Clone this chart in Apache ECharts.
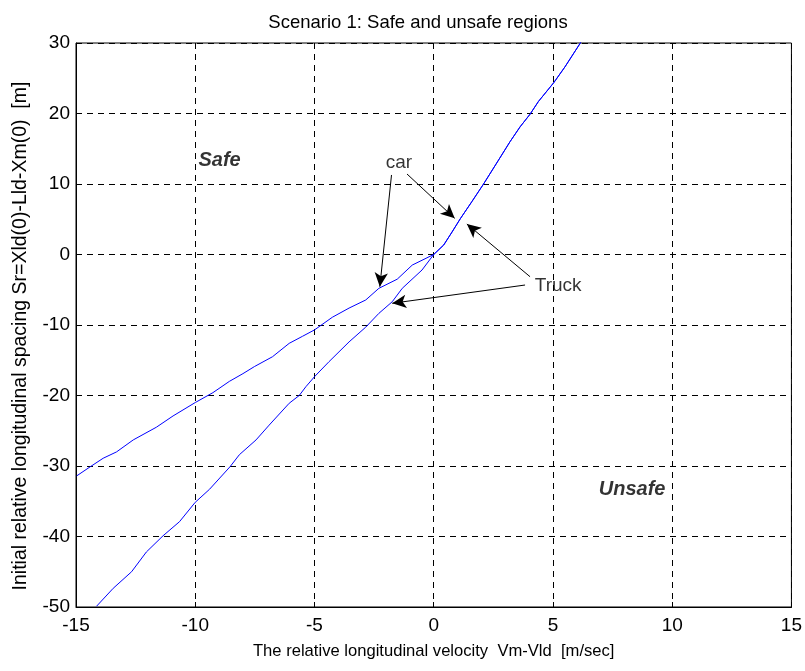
<!DOCTYPE html>
<html>
<head>
<meta charset="utf-8">
<script src="https://cdn.jsdelivr.net/npm/echarts@6/dist/echarts.min.js"></script>
<style>html,body{margin:0;padding:0;background:#fff;}#c{width:805px;height:671px;}</style>
</head>
<body>
<div id="c"></div>
<script>
// Car curve (negative velocities)
var carNegV = [-14.97, -14.4, -13.86, -13.3, -12.6, -11.63, -10.93, -10.0, -9.26, -8.57, -8.0, -7.52, -6.76, -6.06, -5.5, -5.0, -4.25, -3.55, -2.85, -2.3, -1.53, -0.9, 0];
var carNegS = [-31.4, -30.1, -28.9, -28.0, -26.3, -24.5, -22.9, -21.0, -19.6, -18.0, -16.9, -15.9, -14.5, -12.6, -11.6, -10.7, -8.9, -7.6, -6.45, -4.8, -3.5, -1.5, 0];
// Truck curve (negative velocities)
var truckNegV = [-14.14, -13.44, -12.67, -12.05, -11.35, -10.66, -10.0, -9.4, -8.54, -8.15, -7.45, -6.9, -6.06, -5.64, -5.36, -4.99, -4.39, -3.55, -2.85, -2.3, -1.74, -1.32, -0.49, 0];
var truckNegS = [-49.9, -47.35, -45.0, -42.2, -39.9, -37.9, -35.15, -33.3, -30.1, -28.4, -26.3, -24.2, -21.1, -20.0, -18.75, -17.3, -15.2, -12.4, -10.3, -8.35, -6.7, -4.8, -2.2, 0];
// Shared branch (positive velocities, car and truck coincide)
var posV = [0, 0.42, 0.77, 1.12, 1.6, 2.09, 2.72, 3.2, 3.62, 4.04, 4.39, 5.04, 5.5, 6.13, 6.2];
var posS = [0, 1.35, 3.2, 5.1, 7.5, 10.0, 13.4, 16.0, 18.1, 19.9, 21.7, 24.4, 26.6, 29.9, 30.3];

// Axis ticks
var xTicks = [-15, -10, -5, 0, 5, 10, 15];
var yTicks = [-50, -40, -30, -20, -10, 0, 10, 20, 30];

// Text annotations
var noteText = ['car', 'Truck', 'Safe', 'Unsafe'];
var noteV = [-1.46, 5.22, -8.98, 8.32];
var noteS = [13.0, -4.47, 13.4, -33.4];

// Arrows: [startV, startS, endV, endS]
var arrowStartV = [-1.77, -1.12, 4.04, 3.83];
var arrowStartS = [11.28, 11.42, -3.15, -4.33];
var arrowEndV = [-2.26, 0.88, 1.39, -1.74];
var arrowEndS = [-4.57, 5.13, 4.33, -6.92];

function pairs(a, b) { return a.map(function (v, i) { return [v, b[i]]; }); }

var carData = pairs(carNegV, carNegS).concat(pairs(posV, posS).slice(1));
var truckData = pairs(truckNegV, truckNegS).concat(pairs(posV, posS).slice(1));

var FONT = 'Liberation Sans';
var chart = echarts.init(document.getElementById('c'), null, { renderer: 'canvas' });

var notes = noteText.map(function (t, i) {
  var bold = (t === 'Safe' || t === 'Unsafe');
  return {
    value: [noteV[i], noteS[i]],
    label: {
      show: true, formatter: t, position: 'inside',
      fontFamily: FONT, fontSize: bold ? 20 : 19,
      fontWeight: bold ? 'bold' : 'normal', fontStyle: bold ? 'italic' : 'normal',
      color: '#000', textBorderWidth: 0
    }
  };
});

var arrows = arrowStartV.map(function (v, i) {
  return [{ coord: [v, arrowStartS[i]] }, { coord: [arrowEndV[i], arrowEndS[i]] }];
});

chart.setOption({
  animation: false,
  backgroundColor: '#fff',
  title: {
    text: 'Scenario 1: Safe and unsafe regions',
    left: 413, top: 8, textAlign: 'center',
    textStyle: { fontFamily: FONT, fontSize: 18.5, fontWeight: 'normal', color: '#000' }
  },
  grid: { left: 76, right: 11, top: 43, bottom: 64, show: true, borderColor: '#000', borderWidth: 1, backgroundColor: '#fff' },
  xAxis: {
    type: 'value', min: -15, max: 15, interval: 5,
    name: 'The relative longitudinal velocity  Vm-Vld  [m/sec]',
    nameLocation: 'middle', nameGap: 36,
    nameTextStyle: { fontFamily: FONT, fontSize: 16.6, color: '#000' },
    axisLine: { show: true, onZero: false, lineStyle: { color: '#000', width: 1 } },
    axisTick: { show: true, inside: true, length: 5, lineStyle: { color: '#000' } },
    axisLabel: { fontFamily: FONT, fontSize: 19, color: '#000', margin: 9,
      formatter: function (v) { return xTicks.indexOf(v) >= 0 ? String(v) : ''; } },
    splitLine: { show: true, lineStyle: { color: '#000', type: [6, 5], width: 1 } }
  },
  yAxis: {
    type: 'value', min: -50, max: 30, interval: 10,
    name: 'Initial relative longitudinal spacing Sr=Xld(0)-Lld-Xm(0)  [m]',
    nameLocation: 'middle', nameGap: 45,
    nameTextStyle: { fontFamily: FONT, fontSize: 19.5, color: '#000', padding: [0, 22, 0, 0] },
    axisLine: { show: true, onZero: false, lineStyle: { color: '#000', width: 1 } },
    axisTick: { show: true, inside: true, length: 5, lineStyle: { color: '#000' } },
    axisLabel: { fontFamily: FONT, fontSize: 19, color: '#000', margin: 6,
      formatter: function (v) { return yTicks.indexOf(v) >= 0 ? String(v) : ''; } },
    splitLine: { show: true, lineStyle: { color: '#000', type: [6, 5], width: 1 } }
  },
  series: [
    {
      name: 'car', type: 'line', data: carData, showSymbol: false, symbol: 'none',
      lineStyle: { color: '#0000ff', width: 1 }, clip: true, z: 3
    },
    {
      name: 'truck', type: 'line', data: truckData, showSymbol: false, symbol: 'none',
      lineStyle: { color: '#0000ff', width: 1 }, clip: true, z: 3,
      markLine: {
        silent: true, symbol: ['none', 'arrow'], symbolSize: [10, 14],
        label: { show: false },
        lineStyle: { color: '#000', width: 1, type: 'solid' },
        emphasis: { disabled: true },
        data: arrows
      }
    },
    {
      name: 'notes', type: 'scatter', symbolSize: 0, data: notes, z: 5, silent: true
    }
  ]
});
</script>
</body>
</html>
